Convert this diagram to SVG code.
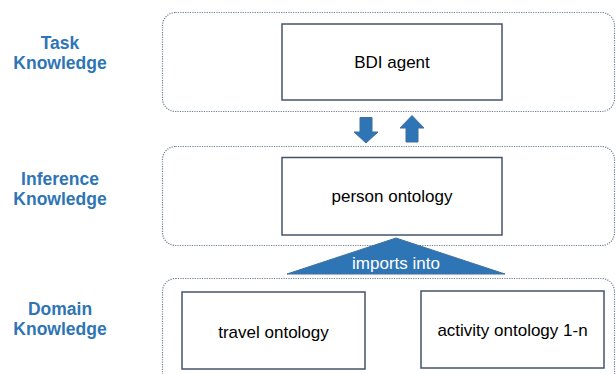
<svg xmlns="http://www.w3.org/2000/svg" width="616" height="374" viewBox="0 0 616 374">
<style>
.layer{fill:none;stroke:#6f7f90;stroke-width:1.2;stroke-dasharray:1.2 1.2}
.box{fill:#fff;stroke:#44546a;stroke-width:1.5}
.lbl{font-family:"Liberation Sans",Arial,sans-serif;font-size:17.5px;font-weight:bold;fill:#2e75b6;text-anchor:middle}
.txt{font-family:"Liberation Sans",Arial,sans-serif;font-size:17px;fill:#000;text-anchor:middle}
.arr{fill:#2e75b6;stroke:#41719c;stroke-width:1}
</style>
<rect width="616" height="374" fill="#fff"/>
<g id="layers">
<rect class="layer" x="162.5" y="12.5" width="452" height="99" rx="13"/>
<rect class="layer" x="162.5" y="146.5" width="452" height="99" rx="13"/>
<rect class="layer" x="162.5" y="278.5" width="452" height="120" rx="13"/>
</g>
<g id="labels">
<text class="lbl" x="60" y="48.5">Task</text>
<text class="lbl" x="60" y="68.5">Knowledge</text>
<text class="lbl" x="60" y="185">Inference</text>
<text class="lbl" x="60" y="205">Knowledge</text>
<text class="lbl" x="60" y="315">Domain</text>
<text class="lbl" x="60" y="335">Knowledge</text>
</g>
<g id="bdi-agent">
<rect class="box" x="282" y="24" width="220" height="76"/>
<text class="txt" x="392" y="68">BDI agent</text>
</g>
<g id="person-ontology">
<rect class="box" x="282" y="157.5" width="220" height="77.5"/>
<text class="txt" x="392" y="202">person ontology</text>
</g>
<g id="travel-ontology">
<rect class="box" x="182" y="292" width="183" height="77"/>
<text class="txt" x="273.5" y="338">travel ontology</text>
</g>
<g id="activity-ontology">
<rect class="box" x="421" y="291" width="183" height="77"/>
<text class="txt" x="512.5" y="336">activity ontology 1-n</text>
</g>
<g id="connectors">
<polygon class="arr" points="360,117.5 372,117.5 372,132 378,132 366,143 354,132 360,132"/>
<polygon class="arr" points="406,142 418,142 418,128 424,128 412,115.5 400,128 406,128"/>
<polygon class="arr" points="396,238 505,274 287,274" stroke="none"/>
<text x="396" y="268.5" font-family="'Liberation Sans',Arial,sans-serif" font-size="17" fill="#fff" text-anchor="middle">imports into</text>
</g>
</svg>
